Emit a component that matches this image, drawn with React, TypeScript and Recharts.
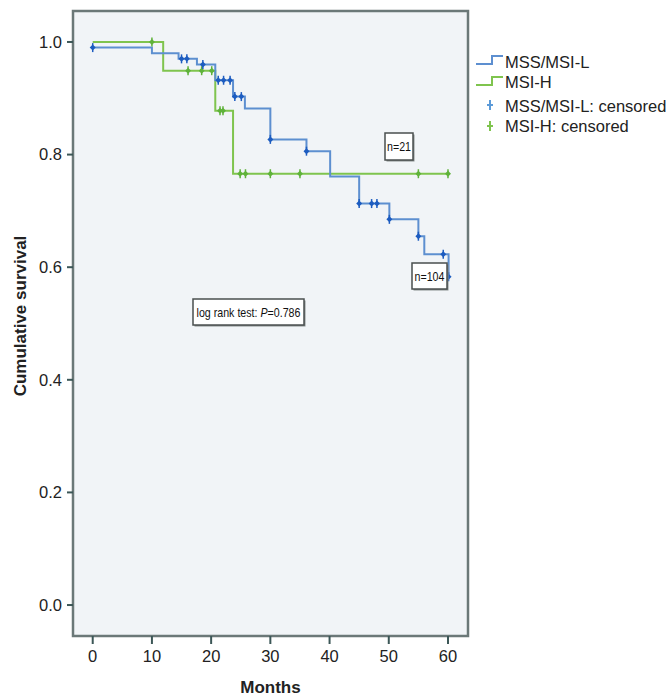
import {
  ComposedChart,
  Line,
  Scatter,
  XAxis,
  YAxis,
  CartesianGrid,
  ReferenceArea
} from "recharts"

// Kaplan-Meier steps
const mssTimes = [0, 10, 14.5, 17.6, 20.7, 23.7, 25.7, 30, 36.1, 40.1, 45, 50.1, 55, 56, 60.1]
const mssSurv = [0.99, 0.98, 0.97, 0.96, 0.932, 0.903, 0.882, 0.827, 0.806, 0.761, 0.713, 0.685, 0.655, 0.623, 0.583]

const msihTimes = [0, 11.9, 20.7, 23.7, 60]
const msihSurv = [1.0, 0.949, 0.878, 0.766, 0.766]

// censored marks
const mssCensTimes = [0, 15, 15.9, 18.6, 21.2, 22.1, 23.2, 24, 25.1, 30, 36.1, 45, 47.1, 48, 50.1, 55, 59.2, 60.1]
const mssCensSurv = [0.99, 0.97, 0.97, 0.96, 0.932, 0.932, 0.932, 0.903, 0.903, 0.827, 0.806, 0.713, 0.713, 0.713, 0.685, 0.655, 0.623, 0.583]

const msihCensTimes = [10, 16.1, 18.4, 20.1, 21.5, 22, 24.9, 25.8, 30, 35, 55, 60]
const msihCensSurv = [1.0, 0.949, 0.949, 0.949, 0.878, 0.878, 0.766, 0.766, 0.766, 0.766, 0.766, 0.766]

const xTicks = [0, 10, 20, 30, 40, 50, 60]
const yTicks = [0, 0.2, 0.4, 0.6, 0.8, 1.0]

const seriesNames = ["MSS/MSI-L", "MSI-H", "MSS/MSI-L: censored", "MSI-H: censored"]

const toPoints = (ts: number[], ss: number[]) => ts.map((t, i) => ({ t, s: ss[i] }))

const mssLine = toPoints(mssTimes, mssSurv)
const msihLine = toPoints(msihTimes, msihSurv)
const mssCens = toPoints(mssCensTimes, mssCensSurv)
const msihCens = toPoints(msihCensTimes, msihCensSurv)

const font = "'Liberation Sans', Arial, sans-serif"
const blueLine = "#5d8fd0"
const blueMark = "#1d5cc0"
const greenLine = "#7fc44e"
const greenMark = "#5fb23a"
const frame = "#6b7878"
const tickCol = "#3c5757"

function CensorMark(props: any) {
  const { cx, cy, fill } = props
  if (cx == null || cy == null) return null
  return (
    <g>
      <line x1={cx} x2={cx} y1={cy - 4.5} y2={cy + 4.5} stroke={fill} strokeWidth={1.5} />
      <path d={`M${cx - 3},${cy} L${cx},${cy - 3} L${cx + 3},${cy} L${cx},${cy + 3} Z`} fill={fill} />
    </g>
  )
}

// boxed note with a condensed (horizontally squeezed) label
function NoteBox({ x, y, w, h, children }: any) {
  const cx = x + w / 2
  const cy = y + h / 2 + 4.5
  return (
    <g>
      <rect x={x + 1.5} y={y + 1.5} width={w} height={h} fill="#8a8f8f" />
      <rect x={x} y={y} width={w} height={h} fill="#fff" stroke="#4a4f4f" strokeWidth={1.5} />
      <g transform={`translate(${cx},${cy}) scale(0.82,1)`}>
        <text x={0} y={0} textAnchor="middle" fontSize={13} fontFamily={font} fill="#111">
          {children}
        </text>
      </g>
    </g>
  )
}

export default function App() {
  return (
    <div style={{ position: "relative", width: 670, height: 698, background: "#fff" }}>
      <style>{"body{margin:0}"}</style>
      <ComposedChart width={670} height={698} margin={{ top: 11, right: 202, bottom: 0, left: 0 }}>
        <CartesianGrid fill="#f1f4f7" horizontal={false} vertical={false} />
        <XAxis
          type="number"
          dataKey="t"
          domain={[-3.33, 63.38]}
          ticks={xTicks}
          allowDataOverflow
          height={62}
          axisLine={false}
          tickSize={8}
          tickMargin={6}
          tickLine={{ stroke: tickCol, strokeWidth: 2 }}
          tick={{ fill: "#222", fontSize: 16.5, fontFamily: font }}
        />
        <YAxis
          type="number"
          domain={[-0.055, 1.055]}
          ticks={yTicks}
          allowDataOverflow
          width={73}
          axisLine={false}
          tickSize={6}
          tickMargin={5}
          tickFormatter={(v: number) => v.toFixed(1)}
          tickLine={{ stroke: tickCol, strokeWidth: 2 }}
          tick={{ fill: "#222", fontSize: 16.5, fontFamily: font }}
        />
        <ReferenceArea
          x1={-3.33}
          x2={63.38}
          y1={-0.055}
          y2={1.055}
          fill="none"
          stroke={frame}
          strokeWidth={2.5}
          ifOverflow="visible"
        />
        <Line
          data={msihLine}
          dataKey="s"
          type="stepAfter"
          stroke={greenLine}
          strokeWidth={2}
          dot={false}
          isAnimationActive={false}
        />
        <Line
          data={mssLine}
          dataKey="s"
          type="stepAfter"
          stroke={blueLine}
          strokeWidth={2}
          dot={false}
          isAnimationActive={false}
        />
        <Scatter data={msihCens} dataKey="s" fill={greenMark} shape={<CensorMark />} isAnimationActive={false} />
        <Scatter data={mssCens} dataKey="s" fill={blueMark} shape={<CensorMark />} isAnimationActive={false} />
      </ComposedChart>

      <svg
        width={670}
        height={698}
        style={{ position: "absolute", left: 0, top: 0, pointerEvents: "none" }}
      >
        <text
          x={20}
          y={316}
          transform="rotate(-90 20 316)"
          textAnchor="middle"
          dominantBaseline="central"
          fontSize={17}
          fontWeight="bold"
          fontFamily={font}
          fill="#222"
        >
          Cumulative survival
        </text>
        <text x={270.5} y={693} textAnchor="middle" fontSize={17} fontWeight="bold" fontFamily={font} fill="#222">
          Months
        </text>

        {/* legend */}
        <path d="M476,64 H492 V56 H503" fill="none" stroke={blueLine} strokeWidth={2} />
        <path d="M476,85 H492 V77 H503" fill="none" stroke={greenLine} strokeWidth={2} />
        <g stroke="#5b9ad8" strokeWidth={2}>
          <line x1={490} x2={490} y1={100} y2={110} />
          <line x1={487} x2={493} y1={105} y2={105} />
        </g>
        <g stroke={greenLine} strokeWidth={2}>
          <line x1={490} x2={490} y1={121} y2={131} />
          <line x1={487} x2={493} y1={126} y2={126} />
        </g>
        {seriesNames.map((name, i) => (
          <text
            key={name}
            x={505}
            y={[68, 88, 111.5, 131.5][i]}
            fontSize={16.5}
            fontFamily={font}
            fill="#222"
          >
            {name}
          </text>
        ))}

        {/* annotations */}
        <NoteBox x={385} y={133} w={28} h={27}>n=21</NoteBox>
        <NoteBox x={412} y={263} w={35} h={26}>n=104</NoteBox>
        <NoteBox x={193} y={299} w={111} h={26}>
          log rank test: <tspan fontStyle="italic">P</tspan>=0.786
        </NoteBox>
      </svg>
    </div>
  )
}
